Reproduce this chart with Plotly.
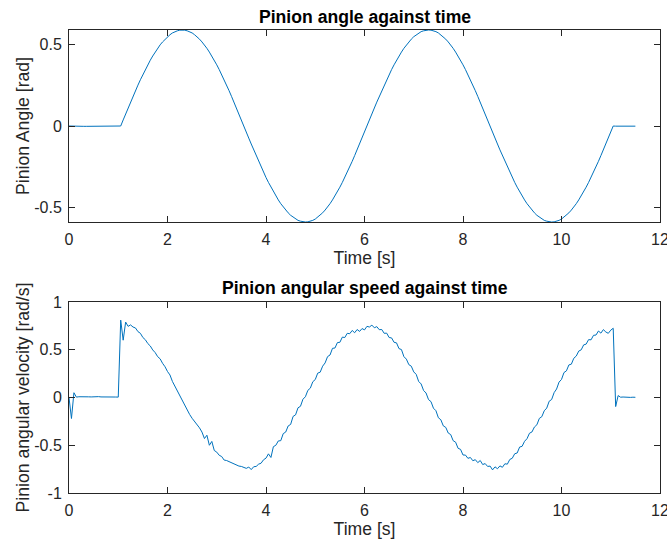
import numpy as np
import plotly.graph_objects as go

W, H = 667, 545

# ---------------- data ----------------
sample_step = 0.05
time_s = np.round(np.arange(231) * sample_step, 2)  # 0.00 ... 11.50 s

angle_rad = [
    # 0.00 - 1.00 s : at rest
    0.000, -0.001, -0.001, -0.002, -0.002, -0.002, -0.002, -0.002, -0.002, -0.002,
    -0.002, -0.002, -0.002, -0.002, -0.002, -0.002, -0.002, -0.002, -0.002, -0.002,
    -0.001,
    # 1.05 - 3.55 s : first positive lobe
    0.000, 0.037, 0.074, 0.110, 0.146, 0.181, 0.216, 0.250, 0.283, 0.315,
    0.345, 0.374, 0.402, 0.428, 0.452, 0.475, 0.496, 0.514, 0.531, 0.546,
    0.558, 0.569, 0.577, 0.582, 0.586, 0.587, 0.586, 0.582, 0.577, 0.569,
    0.558, 0.546, 0.531, 0.514, 0.496, 0.475, 0.452, 0.428, 0.402, 0.374,
    0.345, 0.315, 0.283, 0.250, 0.216, 0.181, 0.146, 0.110, 0.074, 0.037,
    0.000,
    # 3.60 - 6.05 s : first negative lobe
    -0.037, -0.074, -0.110, -0.146, -0.181, -0.216, -0.250, -0.283, -0.315, -0.345,
    -0.374, -0.402, -0.428, -0.452, -0.475, -0.496, -0.514, -0.531, -0.546, -0.558,
    -0.569, -0.577, -0.582, -0.586, -0.587, -0.586, -0.582, -0.577, -0.569, -0.558,
    -0.546, -0.531, -0.514, -0.496, -0.475, -0.452, -0.428, -0.402, -0.374, -0.345,
    -0.315, -0.283, -0.250, -0.216, -0.181, -0.146, -0.110, -0.074, -0.037, 0.000,
    # 6.10 - 8.55 s : second positive lobe
    0.037, 0.074, 0.110, 0.146, 0.181, 0.216, 0.250, 0.283, 0.315, 0.345,
    0.374, 0.402, 0.428, 0.452, 0.475, 0.496, 0.514, 0.531, 0.546, 0.558,
    0.569, 0.577, 0.582, 0.586, 0.587, 0.586, 0.582, 0.577, 0.569, 0.558,
    0.546, 0.531, 0.514, 0.496, 0.475, 0.452, 0.428, 0.402, 0.374, 0.345,
    0.315, 0.283, 0.250, 0.216, 0.181, 0.146, 0.110, 0.074, 0.037, 0.000,
    # 8.60 - 11.05 s : second negative lobe
    -0.037, -0.074, -0.110, -0.146, -0.181, -0.216, -0.250, -0.283, -0.315, -0.345,
    -0.374, -0.402, -0.428, -0.452, -0.475, -0.496, -0.514, -0.531, -0.546, -0.558,
    -0.569, -0.577, -0.582, -0.586, -0.587, -0.586, -0.582, -0.577, -0.569, -0.558,
    -0.546, -0.531, -0.514, -0.496, -0.475, -0.452, -0.428, -0.402, -0.374, -0.345,
    -0.315, -0.283, -0.250, -0.216, -0.181, -0.146, -0.110, -0.074, -0.037, 0.000,
    # 11.10 - 11.50 s : at rest
    -0.001, -0.001, -0.001, -0.001, -0.001, -0.001, -0.001, -0.001, -0.001,
]

velocity_rad_s = [
    0.000, -0.220, 0.050, 0.004, 0.008, 0.006, 0.009, 0.005, 0.007, 0.006,
    0.008, 0.005, 0.009, 0.006, 0.007, 0.004, 0.008, 0.006, 0.009, 0.005,
    0.004, 0.810, 0.600, 0.790, 0.745, 0.760, 0.738, 0.728, 0.690, 0.672,
    0.628, 0.605, 0.565, 0.540, 0.498, 0.470, 0.428, 0.405, 0.358, 0.322,
    0.272, 0.236, 0.168, 0.118, 0.058, 0.010, -0.042, -0.078, -0.132, -0.178,
    -0.218, -0.248, -0.290, -0.318, -0.362, -0.430, -0.395, -0.500, -0.460, -0.555,
    -0.572, -0.605, -0.618, -0.655, -0.660, -0.672, -0.678, -0.695, -0.700, -0.718,
    -0.722, -0.735, -0.742, -0.728, -0.755, -0.725, -0.722, -0.698, -0.688, -0.652,
    -0.635, -0.590, -0.628, -0.515, -0.500, -0.455, -0.452, -0.378, -0.362, -0.298,
    -0.282, -0.198, -0.182, -0.108, -0.092, -0.018, 0.008, 0.075, 0.098, 0.165,
    0.188, 0.255, 0.265, 0.328, 0.362, 0.428, 0.445, 0.515, 0.518, 0.575,
    0.578, 0.632, 0.628, 0.672, 0.668, 0.702, 0.678, 0.712, 0.692, 0.722,
    0.708, 0.745, 0.738, 0.758, 0.730, 0.742, 0.710, 0.712, 0.672, 0.674,
    0.628, 0.624, 0.578, 0.572, 0.512, 0.502, 0.428, 0.402, 0.344, 0.328,
    0.268, 0.242, 0.168, 0.142, 0.073, 0.047, -0.022, -0.043, -0.112, -0.138,
    -0.212, -0.233, -0.297, -0.313, -0.372, -0.388, -0.452, -0.468, -0.532, -0.543,
    -0.602, -0.603, -0.637, -0.628, -0.662, -0.651, -0.682, -0.660, -0.702, -0.692,
    -0.722, -0.718, -0.758, -0.726, -0.746, -0.716, -0.731, -0.694, -0.698, -0.649,
    -0.636, -0.589, -0.581, -0.519, -0.511, -0.459, -0.431, -0.374, -0.361, -0.309,
    -0.286, -0.219, -0.201, -0.139, -0.111, -0.039, -0.021, 0.051, 0.089, 0.161,
    0.189, 0.261, 0.279, 0.341, 0.349, 0.411, 0.434, 0.486, 0.499, 0.551,
    0.559, 0.606, 0.604, 0.651, 0.654, 0.696, 0.674, 0.711, 0.686, 0.672,
    0.705, 0.725, -0.095, 0.020, 0.003, 0.005, 0.002, 0.004, 0.001, 0.003,
    0.002,
]

x_tick_vals = [0, 2, 4, 6, 8, 10, 12]
x_tick_text = ["0", "2", "4", "6", "8", "10", "12"]
angle_tick_vals = [-0.5, 0, 0.5]
angle_tick_text = ["-0.5", "0", "0.5"]
vel_tick_vals = [-1, -0.5, 0, 0.5, 1]
vel_tick_text = ["-1", "-0.5", "0", "0.5", "1"]

title_top = "Pinion angle against time"
title_bottom = "Pinion angular speed against time"
x_label = "Time [s]"
y_label_top = "Pinion Angle [rad]"
y_label_bottom = "Pinion angular velocity [rad/s]"

# ---------------- style ----------------
FONT = "Liberation Sans, Arial, sans-serif"
AX = "#262626"
LINE = "#0072BD"
TICK_SIZE = 16
LABEL_SIZE = 17.6

def fx(p):
    return p / W

def fy(p):
    return 1 - p / H

axis_common = dict(
    showline=True, linecolor=AX, linewidth=1, mirror="ticks",
    ticks="inside", ticklen=6, tickwidth=1, tickcolor=AX,
    showgrid=False, zeroline=False, automargin=False,
    ticklabeloverflow="allow",
    tickfont=dict(family=FONT, size=TICK_SIZE, color=AX),
)

fig = go.Figure()
fig.add_trace(go.Scatter(x=time_s, y=angle_rad, mode="lines",
                         line=dict(color=LINE, width=1), xaxis="x", yaxis="y",
                         showlegend=False, hoverinfo="skip"))
fig.add_trace(go.Scatter(x=time_s, y=velocity_rad_s, mode="lines",
                         line=dict(color=LINE, width=1), xaxis="x2", yaxis="y2",
                         showlegend=False, hoverinfo="skip"))

xdom = [fx(69), fx(660)]
fig.update_layout(
    width=W, height=H,
    margin=dict(l=0, r=0, t=0, b=0, pad=0, autoexpand=False),
    paper_bgcolor="white", plot_bgcolor="white",
    font=dict(family=FONT, color=AX),
    xaxis=dict(axis_common, domain=xdom, anchor="y", range=[0, 12],
               tickvals=x_tick_vals, ticktext=x_tick_text, ticklabelstandoff=3,
               title=dict(text=x_label, font=dict(size=LABEL_SIZE, color=AX), standoff=2)),
    yaxis=dict(axis_common, domain=[fy(222), fy(30)], anchor="x",
               range=[min(angle_rad), max(angle_rad)],
               tickvals=angle_tick_vals, ticktext=angle_tick_text, ticklabelstandoff=3,
               title=dict(text=y_label_top, font=dict(size=LABEL_SIZE, color=AX), standoff=0)),
    xaxis2=dict(axis_common, domain=xdom, anchor="y2", range=[0, 12],
                tickvals=x_tick_vals, ticktext=x_tick_text, ticklabelstandoff=3,
                title=dict(text=x_label, font=dict(size=LABEL_SIZE, color=AX), standoff=2)),
    yaxis2=dict(axis_common, domain=[fy(493), fy(302)], anchor="x2",
                range=[-1, 1],
                tickvals=vel_tick_vals, ticktext=vel_tick_text, ticklabelstandoff=3,
                title=dict(text=y_label_bottom, font=dict(size=LABEL_SIZE, color=AX), standoff=0)),
    annotations=[
        dict(text="<b>%s</b>" % title_top, x=fx(364.5), y=fy(17), xref="paper", yref="paper",
             xanchor="center", yanchor="middle", showarrow=False,
             font=dict(family=FONT, size=LABEL_SIZE, color="black")),
        dict(text="<b>%s</b>" % title_bottom, x=fx(364.5), y=fy(288), xref="paper", yref="paper",
             xanchor="center", yanchor="middle", showarrow=False,
             font=dict(family=FONT, size=LABEL_SIZE, color="black")),
    ],
)

fig.write_html("out.html")
